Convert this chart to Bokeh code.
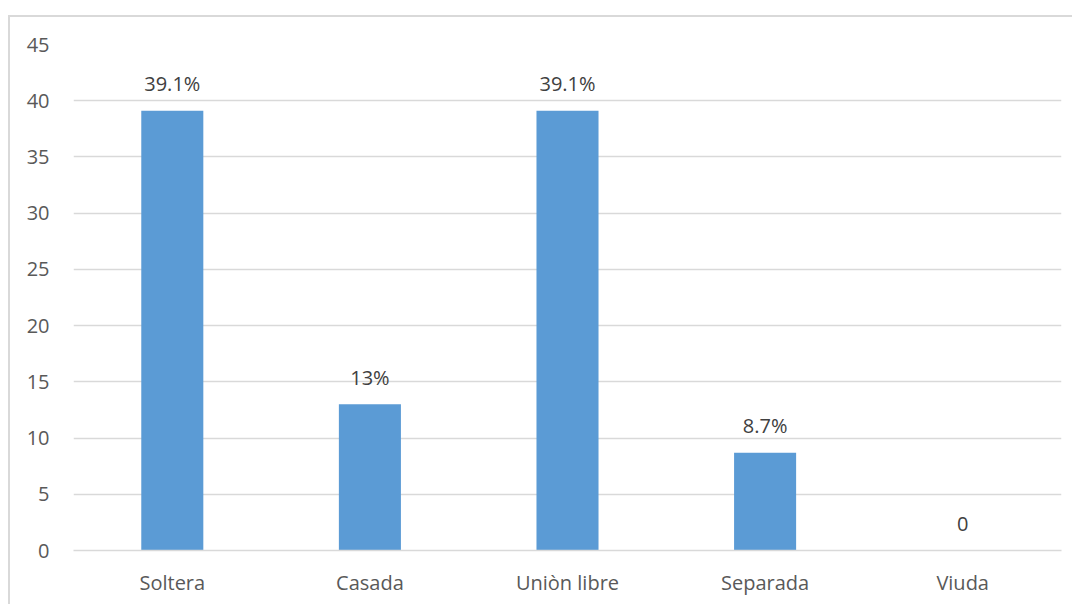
from bokeh.plotting import figure
from bokeh.models import ColumnDataSource, FixedTicker, Range1d
from bokeh.embed import file_html
from bokeh.resources import INLINE
from bokeh.core.properties import value

categories = ["Soltera", "Casada", "Uniòn libre", "Separada", "Viuda"]
values = [39.1, 13, 39.1, 8.7, 0]
bar_labels = ["39.1%", "13%", "39.1%", "8.7%", "0"]
y_ticks = [0, 5, 10, 15, 20, 25, 30, 35, 40, 45]

FONT = "Open Sans"

source = ColumnDataSource(dict(cat=categories, val=values, lab=bar_labels))

p = figure(
    x_range=categories,
    y_range=Range1d(0, 45),
    width=1064,
    height=589,
    output_backend="svg",
    toolbar_location=None,
    min_border_left=63,
    min_border_right=13,
    min_border_top=27,
    min_border_bottom=56,
)
p.styles = {
    "margin-top": "15px",
    "margin-left": "8px",
    "border-left": "2px solid #d9d9d9",
    "border-top": "2px solid #d9d9d9",
}

p.vbar(x="cat", top="val", width=0.314, source=source,
       fill_color="#5B9BD5", line_color=None)

p.text(x="cat", y="val", text="lab", source=source,
       text_align="center", text_baseline="alphabetic", y_offset=-27,
       text_font=value(FONT), text_font_size="20px", text_color="#404040")

p.outline_line_color = None
p.background_fill_color = "white"
p.border_fill_color = "white"

p.xgrid.grid_line_color = None
p.ygrid.grid_line_color = "#d9d9d9"
p.ygrid.grid_line_width = 1.5

p.yaxis.ticker = FixedTicker(ticks=y_ticks)
p.yaxis.axis_line_color = None
p.yaxis.major_tick_line_color = None
p.yaxis.minor_tick_line_color = None
p.yaxis.major_label_standoff = 18
p.yaxis.major_label_text_font = FONT
p.yaxis.major_label_text_font_size = "20px"
p.yaxis.major_label_text_color = "#595959"

p.xaxis.axis_line_color = "#d9d9d9"
p.xaxis.axis_line_width = 1.5
p.xaxis.major_tick_line_color = None
p.xaxis.minor_tick_line_color = None
p.xaxis.major_label_standoff = 12
p.xaxis.major_label_text_font = FONT
p.xaxis.major_label_text_font_size = "20px"
p.xaxis.major_label_text_color = "#595959"

open("out.html", "w").write(file_html(p, INLINE))
